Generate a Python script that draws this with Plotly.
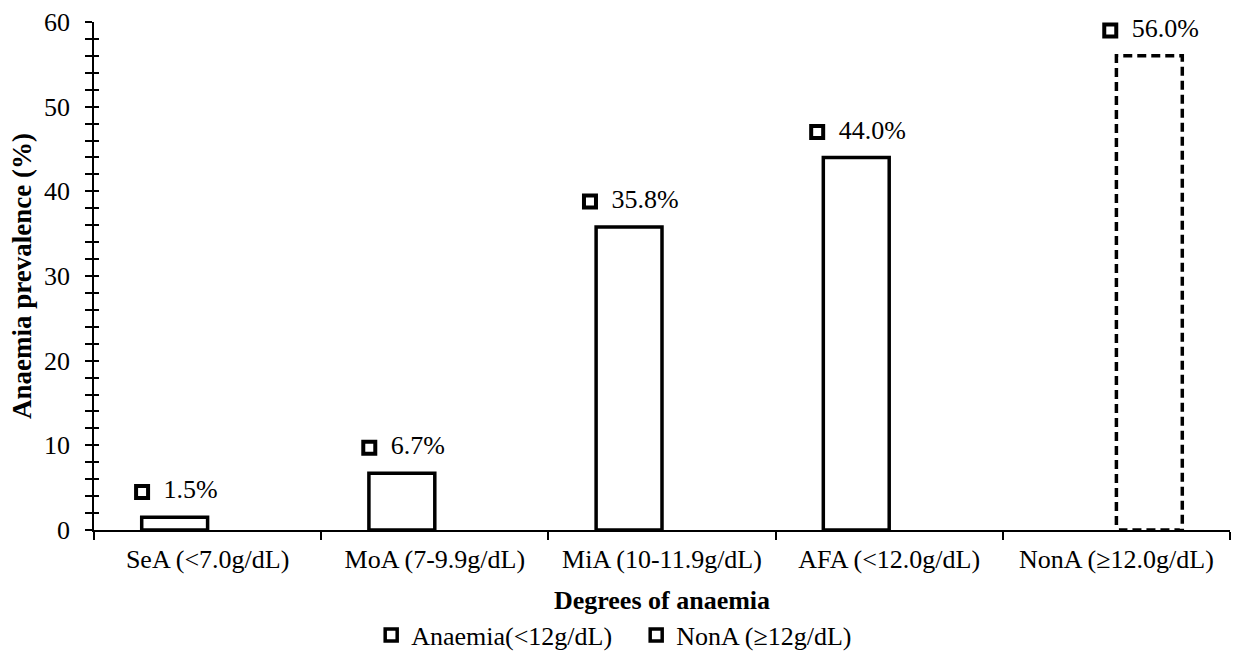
import plotly.graph_objects as go

# ---- data ----
categories = ["SeA (<7.0g/dL)", "MoA (7-9.9g/dL)", "MiA (10-11.9g/dL)",
              "AFA (<12.0g/dL)", "NonA (\u226512.0g/dL)"]
anaemia_vals = [1.5, 6.7, 35.8, 44.0, None]
nona_vals = [None, None, None, None, 56.0]
series_names = ["Anaemia(<12g/dL)", "NonA (\u226512g/dL)"]
y_ticks = [0, 10, 20, 30, 40, 50, 60]

# ---- layout constants ----
W, H = 1235, 656
ML, MR, MT, MB = 94, 5, 22, 126
FONT = "Liberation Serif, Times New Roman, serif"
FS = 26
BARGAP = 0.42
bar_w = (1 - BARGAP) / 2           # width of one bar in category units
px_per_cat = (W - ML - MR) / len(categories)
CHAR_EM = {".": 0.25, "%": 0.833}

def text_w(s):
    return FS * sum(CHAR_EM.get(ch, 0.5) for ch in s)

fig = go.Figure()
fig.add_trace(go.Bar(x=categories, y=anaemia_vals, name=series_names[0],
                     marker=dict(color="white", line=dict(color="black", width=3.5))))
fig.add_trace(go.Bar(x=categories, y=nona_vals, name=series_names[1],
                     marker=dict(color="white", line=dict(color="black", width=3.5))))

# dashed look for NonA bar: white dashes over its outline
for i, v in enumerate(nona_vals):
    if v is None:
        continue
    xs = [i, i, i + bar_w, i + bar_w, i]
    ys = [0, v, v, 0, 0]
    fig.add_trace(go.Scatter(x=xs, y=ys, mode="lines", xaxis="x2", yaxis="y2",
                             line=dict(color="white", width=5, dash="5px,9px"),
                             showlegend=False, hoverinfo="skip"))

# data labels with legend keys
lx, ly, lt = [], [], []
for si, vals in enumerate([anaemia_vals, nona_vals]):
    for i, v in enumerate(vals):
        if v is None:
            continue
        center = i - bar_w / 2 if si == 0 else i + bar_w / 2
        label = f"{v:.1f}%"
        total = 17 + 11 + text_w(label)
        sq = center - (total / 2 - 8.5) / px_per_cat
        lx.append(sq)
        ly.append(v + 3.0)
        lt.append("\u00a0\u00a0" + label)
fig.add_trace(go.Scatter(x=lx, y=ly, text=lt, mode="markers+text", xaxis="x2", yaxis="y",
                         textposition="middle right",
                         textfont=dict(family=FONT, size=FS, color="black"),
                         marker=dict(symbol="square-open", size=12,
                                     line=dict(color="black", width=4), color="black"),
                         showlegend=False, hoverinfo="skip", cliponaxis=False))

fig.update_layout(
    width=W, height=H,
    margin=dict(l=ML, r=MR, t=MT, b=MB, autoexpand=False),
    paper_bgcolor="white", plot_bgcolor="white",
    barmode="group", bargap=BARGAP, bargroupgap=0,
    font=dict(family=FONT, size=FS, color="black"),
    xaxis=dict(type="category", tickson="boundaries", ticks="outside", ticklen=8,
               tickwidth=1.5, tickcolor="black", showline=True, linecolor="black",
               linewidth=1.5, showgrid=False, automargin=False,
               range=[-0.5, len(categories) - 0.5],
               ticklabelstandoff=5,
               title=dict(text="Degrees of anaemia", font=dict(family=FONT, size=FS, weight="bold"),
                          standoff=18),
               tickfont=dict(family=FONT, size=FS, color="black")),
    xaxis2=dict(overlaying="x", anchor="y", range=[-0.5, len(categories) - 0.5],
                visible=False),
    yaxis=dict(range=[0, 60], tickvals=y_ticks, ticks="outside", ticklen=7, tickwidth=1.5,
               tickcolor="black", showline=True, linecolor="black", linewidth=1.5,
               showgrid=False, zeroline=False, automargin=False,
               minor=dict(dtick=2, ticks="outside", ticklen=7, tickwidth=1.5, tickcolor="black",
                          showgrid=False),
               ticklabelstandoff=10,
               title=dict(text="Anaemia prevalence (%)", font=dict(family=FONT, size=27, weight="bold"),
                          standoff=5),
               tickfont=dict(family=FONT, size=FS, color="black")),
    yaxis2=dict(overlaying="y", anchor="x", range=[0, 60], tickvals=y_ticks,
                showticklabels=False, ticks="inside", ticklen=5, tickwidth=1.5,
                tickcolor="black", showline=False, showgrid=False, zeroline=False,
                minor=dict(dtick=2, ticks="inside", ticklen=5, tickwidth=1.5, tickcolor="black",
                           showgrid=False)),
    legend=dict(orientation="h", x=0.244, xanchor="left", y=-0.207, yanchor="middle",
                font=dict(family=FONT, size=FS, color="black"), bgcolor="rgba(0,0,0,0)",
                itemwidth=30, entrywidth=220, entrywidthmode="pixels"),
    showlegend=True,
)

fig.write_html("out.html", config={"displayModeBar": False},
               post_script="document.body.style.margin='0';document.body.style.overflow='hidden';")
